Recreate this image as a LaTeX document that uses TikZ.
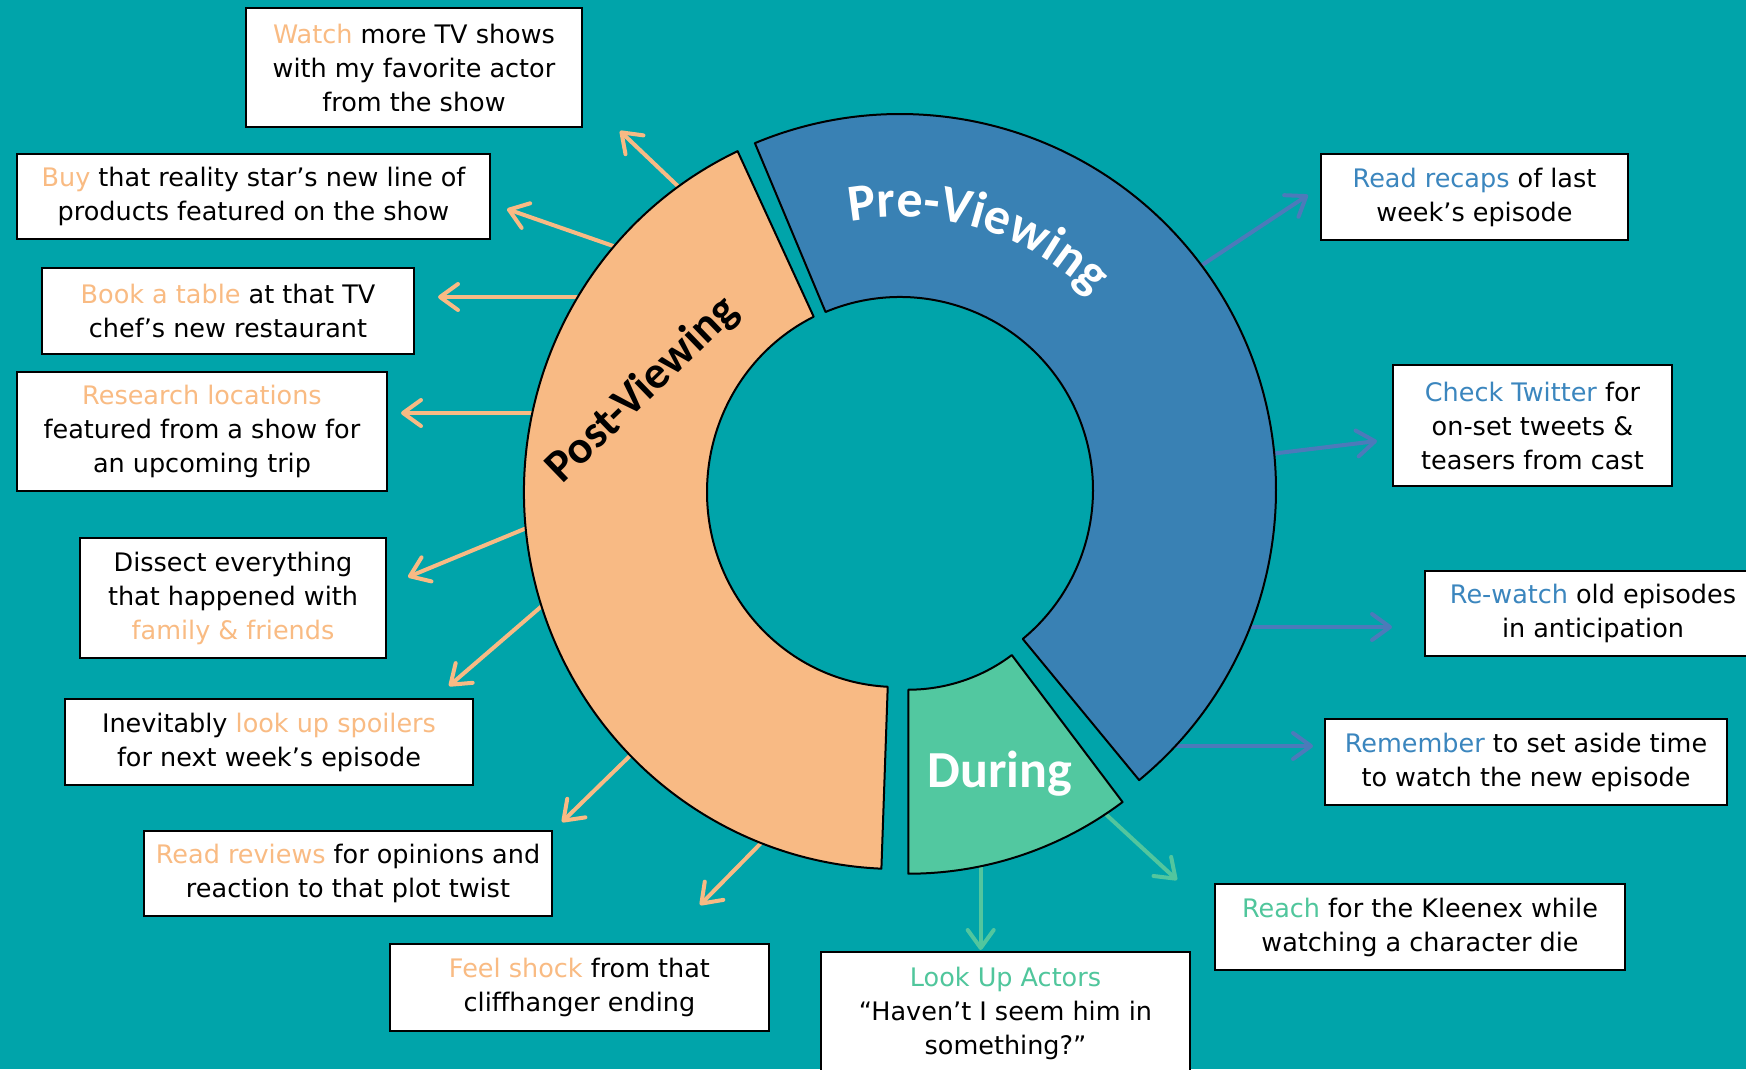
\documentclass[tikz,border=0pt]{standalone}
\usepackage{fontspec}
\setmainfont{DejaVu Sans}
\newfontfamily\ringfont{Carlito}
\usetikzlibrary{arrows.meta,calc,decorations.text}

\definecolor{bg}{RGB}{0,164,170}
\definecolor{preblue}{RGB}{57,129,180}
\definecolor{postorange}{RGB}{248,186,132}
\definecolor{durgreen}{RGB}{82,200,160}
\definecolor{hlorange}{RGB}{249,187,131}
\definecolor{hlblue}{RGB}{59,134,190}
\definecolor{hlgreen}{RGB}{80,198,156}
\definecolor{arrblue}{RGB}{76,122,186}
\definecolor{arrorange}{RGB}{248,186,132}
\definecolor{arrgreen}{RGB}{82,198,158}

\newcommand{\ho}[1]{\textcolor{hlorange}{#1}}
\newcommand{\hb}[1]{\textcolor{hlblue}{#1}}
\newcommand{\hg}[1]{\textcolor{hlgreen}{#1}}

\begin{document}
\begin{tikzpicture}[x=1pt,y=-1pt,
  box/.style={draw=black, line width=2pt, fill=white, inner sep=0pt, align=center,
    font=\fontsize{25.5}{34}\selectfont},
  seg/.style={draw=black, line width=2pt, line join=round},
  conn/.style={line width=4pt, -{Straight Barb[length=18pt,width=26pt,line width=4pt,round]}},
  oconn/.style={conn, draw=arrorange},
  bconn/.style={conn, draw=arrblue},
  gconn/.style={conn, draw=arrgreen},
  ringlbl/.style={font=\ringfont\bfseries\fontsize{#1}{#1}\selectfont},
]
\useasboundingbox (0,0) rectangle (1746,1069);
\fill[bg] (0,0) rectangle (1746,1069);

% centres
\coordinate (cpre) at (900,490);
\coordinate (cpost) at (897,492);
\coordinate (cdur) at (908.3,517.7);

% arrow coordinates (start inside ring, free tips)
\coordinate (a1s) at (683,191);   \coordinate (a1t) at (620,131);
\coordinate (a2s) at (619,248);   \coordinate (a2t) at (507,209);
\coordinate (a3s) at (580,297);   \coordinate (a3t) at (438,297);
\coordinate (a4s) at (539,413);   \coordinate (a4t) at (401,413);
\coordinate (a5s) at (534,525);   \coordinate (a5t) at (408,577);
\coordinate (a6s) at (550,599);   \coordinate (a6t) at (449,686);
\coordinate (a7s) at (638,748);   \coordinate (a7t) at (562,822);
\coordinate (a8s) at (767,837);   \coordinate (a8t) at (700,905);
\coordinate (b1s) at (1190,273);  \coordinate (b1t) at (1308,195);
\coordinate (b2s) at (1262,455);  \coordinate (b2t) at (1377,441);
\coordinate (b3s) at (1243,627);  \coordinate (b3t) at (1392,627);
\coordinate (b4s) at (1170,746);  \coordinate (b4t) at (1313,746);
\coordinate (g1s) at (980.7,858); \coordinate (g1t) at (980.7,950);
\coordinate (g2s) at (1099,808);  \coordinate (g2t) at (1177,880);

\draw[oconn] (a1s) -- (a1t);
\draw[oconn] (a2s) -- (a2t);
\draw[oconn] (a3s) -- (a3t);
\draw[oconn] (a4s) -- (a4t);
\draw[oconn] (a5s) -- (a5t);
\draw[oconn] (a6s) -- (a6t);
\draw[oconn] (a7s) -- (a7t);
\draw[oconn] (a8s) -- (a8t);
\draw[bconn] (b1s) -- (b1t);
\draw[bconn] (b2s) -- (b2t);
\draw[bconn] (b3s) -- (b3t);
\draw[bconn] (b4s) -- (b4t);
\draw[gconn] (g1s) -- (g1t);
\draw[gconn] (g2s) -- (g2t);

% ring segments
\draw[seg, fill=preblue]
  ($(cpre)+(50.5:376)$) arc[start angle=50.5, end angle=-112.7, radius=376]
  -- ($(cpre)+(-112.7:193)$) arc[start angle=-112.7, end angle=50.5, radius=193] -- cycle;
\draw[seg, fill=postorange]
  ($(cpost)+(-115.3:373 and 377)$) arc[start angle=-115.3, end angle=-267.6, x radius=373, y radius=377]
  -- ($(cpost)+(-267.2:190 and 195)$) arc[start angle=-267.2, end angle=-116, x radius=190, y radius=195] -- cycle;
\draw[seg, fill=durgreen]
  ($(cdur)+(53:356)$) arc[start angle=53, end angle=90, radius=356]
  -- ($(cdur)+(90:172)$) arc[start angle=90, end angle=53, radius=172] -- cycle;

% ring labels
\path[decorate, decoration={text along path, text align=center,
  text={|\ringfont\bfseries\fontsize{52}{52}\selectfont\color{white}|Pre-Viewing}}]
  ($(cpre)+(-107:273)$) arc[start angle=-107, end angle=-39, radius=273];
\node[ringlbl=46, text=black, rotate=44, anchor=base, inner sep=0pt] (postlbl) at (651,399) {Post-Viewing};
\node[ringlbl=52, text=white, anchor=base, inner sep=0pt] (durlbl) at (1000,787) {During};

% boxes
\node[box, minimum width=336pt, minimum height=119pt] (watch) at (414,67.5)
  {\ho{Watch} more TV shows\\with my favorite actor\\from the show};
\node[box, minimum width=473pt, minimum height=85pt] (buy) at (253.5,196.5)
  {\ho{Buy} that reality star’s new line of\\products featured on the show};
\node[box, minimum width=372pt, minimum height=86pt] (book) at (228,311)
  {\ho{Book a table} at that TV\\chef’s new restaurant};
\node[box, minimum width=370pt, minimum height=119pt] (research) at (202,431.5)
  {\ho{Research locations}\\featured from a show for\\an upcoming trip};
\node[box, minimum width=306pt, minimum height=120pt] (dissect) at (233,598)
  {Dissect everything\\that happened with\\\ho{family \& friends}};
\node[box, minimum width=408pt, minimum height=86pt] (inev) at (269,742)
  {Inevitably \ho{look up spoilers}\\for next week’s episode};
\node[box, minimum width=408pt, minimum height=85pt] (reviews) at (348,873.5)
  {\ho{Read reviews} for opinions and\\reaction to that plot twist};
\node[box, minimum width=379pt, minimum height=87pt] (shock) at (579.5,987.5)
  {\ho{Feel shock} from that\\cliffhanger ending};
\node[box, minimum width=369pt, minimum height=123pt] (lookup) at (1005.5,1013.5)
  {\hg{Look Up Actors}\\“Haven’t I seem him in\\something?”};
\node[box, minimum width=410pt, minimum height=86pt] (reach) at (1420,927)
  {\hg{Reach} for the Kleenex while\\watching a character die};
\node[box, minimum width=402pt, minimum height=86pt] (remember) at (1526,762)
  {\hb{Remember} to set aside time\\to watch the new episode};
\node[box, minimum width=336pt, minimum height=85pt] (rewatch) at (1593,613.5)
  {\hb{Re-watch} old episodes\\in anticipation};
\node[box, minimum width=279pt, minimum height=121pt] (twitter) at (1532.5,425.5)
  {\hb{Check Twitter} for\\on-set tweets \&\\teasers from cast};
\node[box, minimum width=307pt, minimum height=86pt] (recaps) at (1474.5,197)
  {\hb{Read recaps} of last\\week’s episode};
\end{tikzpicture}
\end{document}
